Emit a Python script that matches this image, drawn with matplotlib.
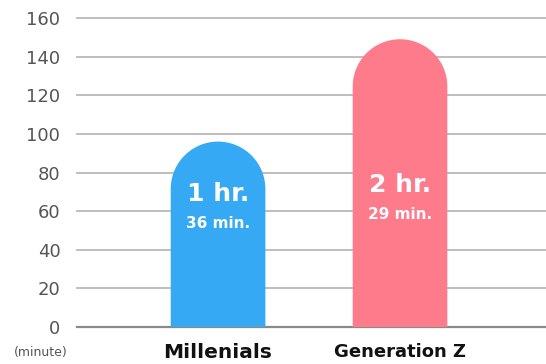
import matplotlib
matplotlib.use('Agg')
import numpy as np
import matplotlib.pyplot as plt
from matplotlib.patches import Polygon

groups = ['Millenials', 'Generation Z']
minutes = [96, 149]
colores = ['#36a9f5', '#fe7b8b']
label_sizes = [14.5, 13]
yticks = list(range(0, 161, 20))

fig = plt.figure(figsize=(5.46, 3.64), dpi=100)
ax = fig.add_axes([77/546, 37/364, 469/546, 309/364])
ax.set_xlim(-0.775, 1.802)
ax.set_ylim(0, 160)

ancho = 0.52
# radio del tope redondeado: mitad del ancho de barra en pixeles, pasado a unidades de y
fig.canvas.draw()
px_x = ax.transData.transform([(ancho, 0)])[0][0] - ax.transData.transform([(0, 0)])[0][0]
px_y = ax.transData.transform([(0, 1)])[0][1] - ax.transData.transform([(0, 0)])[0][1]
r = (px_x / 2) / px_y

ang = np.linspace(np.pi, 0, 80)
for i, (v, c) in enumerate(zip(minutes, colores)):
    arco = np.column_stack([i + ancho / 2 * np.cos(ang), v - r + r * np.sin(ang)])
    pts = np.vstack([[i - ancho / 2, 0], arco, [i + ancho / 2, 0]])
    ax.add_patch(Polygon(pts, closed=True, facecolor=c, edgecolor='none', zorder=3))
    h, m = divmod(v, 60)
    ytxt = 69 if v < 120 else 73.5
    ax.text(i, ytxt, f'{h} hr.', color='white', fontsize=18, fontweight='bold',
            ha='center', va='center', zorder=4)
    ax.text(i, ytxt - 15.5, f'{m} min.', color='white', fontsize=11, fontweight='bold',
            ha='center', va='center', zorder=4)

for y in yticks:
    ax.axhline(y, color='#8a8a8a' if y == 0 else '#b9b9b9', lw=1.6 if y == 0 else 1.3,
               zorder=1, clip_on=False)

ax.set_yticks(yticks)
ax.set_yticklabels([str(t) for t in yticks], color='#555555', fontsize=13)
ax.tick_params(axis='y', length=0, pad=12)
ax.set_xticks([])
for s in ax.spines.values():
    s.set_visible(False)

for i, (g, fs) in enumerate(zip(groups, label_sizes)):
    ax.text(i, -13, g, ha='center', va='center', fontsize=fs, fontweight='bold',
            color='#111111', clip_on=False)
ax.text(-0.973, -13, '(minute)', ha='center', va='center', fontsize=9,
        color='#555555', clip_on=False)

plt.savefig('out.png', dpi=100)
